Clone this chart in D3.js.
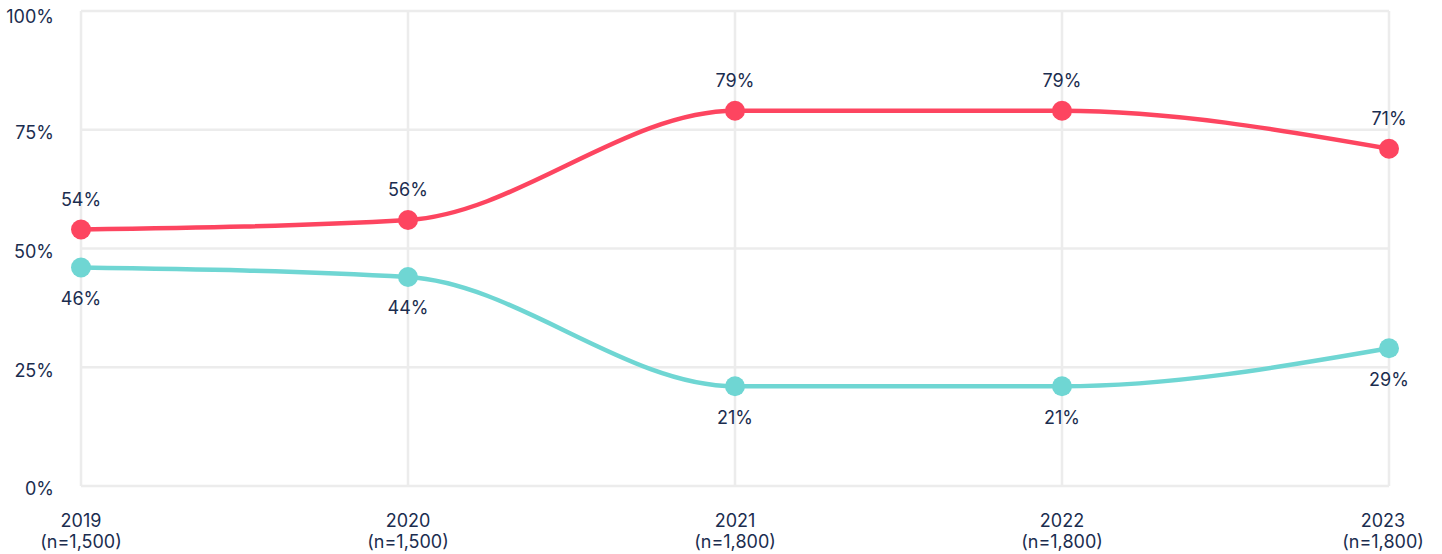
<!DOCTYPE html>
<html>
<head>
<meta charset="utf-8">
<script src="https://cdn.jsdelivr.net/npm/d3@7"></script>
<style>
  body { margin: 0; background: #fff; }
  text { font-family: Inter, "Noto Sans", sans-serif; fill: #1b2d4f; }
</style>
</head>
<body>
<script>
// survey trend, two shares over five years
var years = ["2019", "2020", "2021", "2022", "2023"];
var sampleSizes = ["(n=1,500)", "(n=1,500)", "(n=1,800)", "(n=1,800)", "(n=1,800)"];
var redValues = [54, 56, 79, 79, 71];
var tealValues = [46, 44, 21, 21, 29];
var yTicks = [0, 25, 50, 75, 100];

var width = 1442, height = 554;
var plotLeft = 81, plotRight = 1389, plotTop = 11, plotBottom = 486;

var svg = d3.select("body").append("svg").attr("width", width).attr("height", height);

var x = d3.scalePoint().domain(years).range([plotLeft, plotRight]);
var y = d3.scaleLinear().domain([0, 100]).range([plotBottom, plotTop]);

// grid
svg.selectAll(".hgrid").data(yTicks).enter().append("line")
    .attr("x1", plotLeft).attr("x2", plotRight)
    .attr("y1", function(d) { return y(d); })
    .attr("y2", function(d) { return y(d); })
    .style("stroke", "#ececec").style("stroke-width", 2.5);

svg.selectAll(".vgrid").data(years).enter().append("line")
    .attr("x1", function(d) { return x(d); })
    .attr("x2", function(d) { return x(d); })
    .attr("y1", plotTop).attr("y2", plotBottom)
    .style("stroke", "#ececec").style("stroke-width", 2.5);

// y labels
svg.selectAll(".ylab").data(yTicks).enter().append("text")
    .attr("x", 54)
    .attr("y", function(d) { return Math.max(y(d) + 3, 17); })
    .attr("dy", "0.35em")
    .attr("text-anchor", "end")
    .style("font-size", "18px")
    .text(function(d) { return d + "%"; });

// x labels
years.forEach(function(yr, i) {
    var cx = x(yr);
    if (i == years.length - 1) cx = 1383;
    var t = svg.append("text")
        .attr("x", cx).attr("text-anchor", "middle")
        .style("font-size", "18px");
    t.append("tspan").attr("x", cx).attr("y", 527).text(yr);
    t.append("tspan").attr("x", cx).attr("y", 548).text(sampleSizes[i]);
});

var line = d3.line()
    .x(function(d, i) { return x(years[i]); })
    .y(function(d) { return y(d); })
    .curve(d3.curveMonotoneX);

function drawSeries(values, color, above) {
    svg.append("path")
        .attr("d", line(values))
        .style("fill", "none")
        .style("stroke", color)
        .style("stroke-width", 4.5);

    svg.selectAll(null).data(values).enter().append("circle")
        .attr("cx", function(d, i) { return x(years[i]); })
        .attr("cy", function(d) { return y(d); })
        .attr("r", 10)
        .style("fill", color);

    svg.selectAll(null).data(values).enter().append("text")
        .attr("x", function(d, i) { return x(years[i]); })
        .attr("y", function(d) { return y(d) + (above ? -30 : 31); })
        .attr("dy", "0.35em")
        .attr("text-anchor", "middle")
        .style("font-size", "18px")
        .text(function(d) { return d + "%"; });
}

drawSeries(redValues, "#fd4560", true);
drawSeries(tealValues, "#6fd6d3", false);
</script>
</body>
</html>
